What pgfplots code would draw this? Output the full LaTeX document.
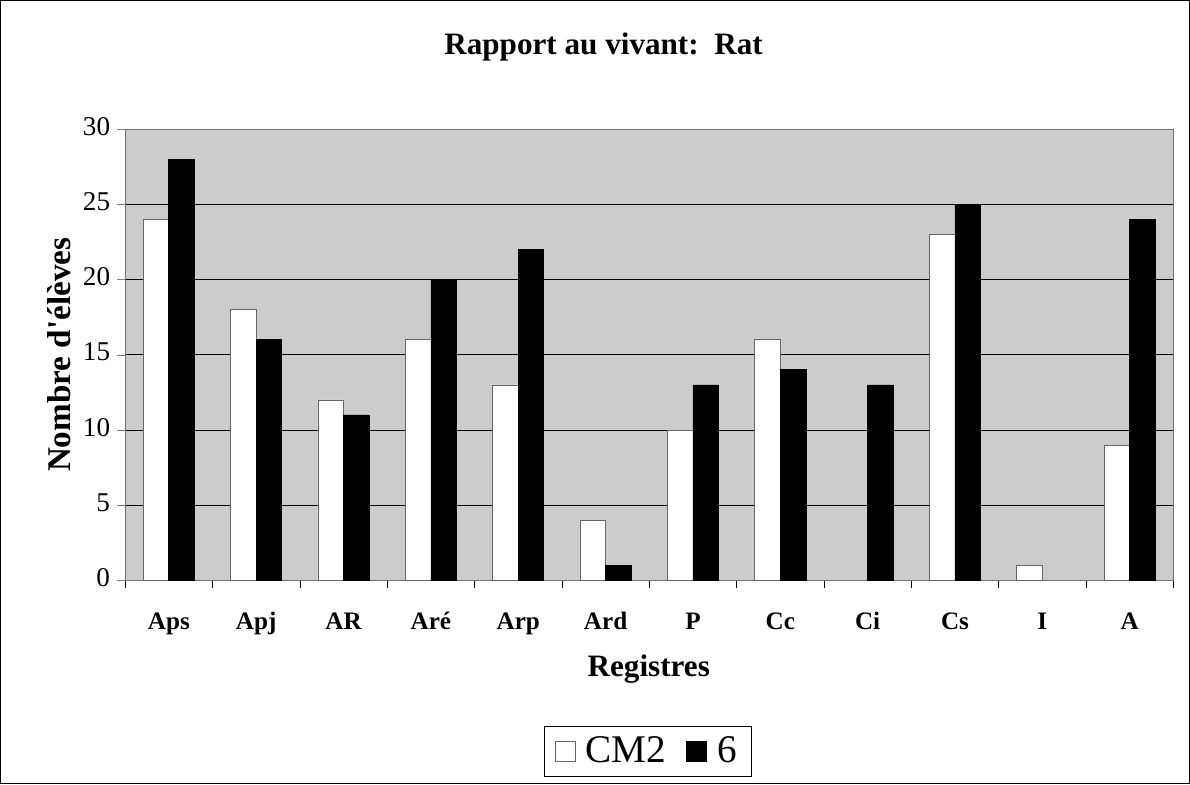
\documentclass[border=0pt]{standalone}
\usepackage{fontspec}
\setmainfont{Liberation Serif}
\usepackage{pgfplots}
\pgfplotsset{compat=1.18}

\pgfplotstableread{
x cm six
0 24 28
1 18 16
2 12 11
3 16 20
4 13 22
5 4 1
6 10 13
7 16 14
8 0 13
9 23 25
10 1 0
11 9 24
}\rat

\begin{document}
\begin{tikzpicture}
\begin{axis}[
  name=ax, at={(0,0)}, anchor=south west,
  scale only axis, width=521.5pt, height=224.5pt,
  ybar=0pt, bar width=12.75pt,
  xmin=-0.5, xmax=11.5, ymin=0, ymax=30,
  xtick={0,...,11},
  xticklabels={Aps,Apj,AR,Aré,Arp,Ard,P,Cc,Ci,Cs,I,A},
  typeset ticklabels with strut,
  x tick label style={font=\fontsize{12.5}{14}\selectfont\bfseries, yshift=-7pt},
  major x tick style={draw=none},
  minor xtick={-0.5,0.5,...,11.5},
  minor x tick style={black},
  xtick pos=bottom, ytick pos=left,
  ytick={0,5,...,30},
  y tick label style={font=\fontsize{13.5}{15}\selectfont},
  /pgf/number format/assume math mode=true,
  tick align=outside, major tick length=4pt, minor tick length=4pt,
  ymajorgrids, grid style={black, line width=0.5pt},
  axis background/.style={fill=black!20},
  axis line style={black!55},
  unbounded coords=discard,
  y filter/.expression={y==0 ? nan : y},
  xlabel={Registres},
  xlabel style={font=\fontsize{15.5}{18}\selectfont\bfseries, at={(axis description cs:0.4995,-0.196)}, anchor=center},
  ylabel={Nombre d\textquotesingle élèves},
  ylabel style={font=\fontsize{16.5}{18}\selectfont\bfseries, at={(axis description cs:-0.063,0.5)}, anchor=center, rotate=0},
  legend columns=2,
  legend style={at={(axis description cs:0.4986,-0.379)}, anchor=center, draw=black, font=\fontsize{19.5}{22}\selectfont, inner xsep=5pt, inner ysep=3pt,
    /tikz/every odd column/.append style={column sep=3pt},
    /tikz/every even column/.append style={column sep=8pt}},
  legend image code/.code={\draw[#1] (0pt,-5pt) rectangle (10pt,5pt);},
]
\addplot[fill=white, draw=black!60, line width=0.4pt] table[x=x, y=cm] {\rat};
\addplot[fill=black, draw=black, line width=0.4pt] table[x=x, y=six] {\rat};
\legend{CM2, 6}
\end{axis}
\node[font=\fontsize{15.5}{18}\selectfont\bfseries, anchor=center] at ([xshift=238pt, yshift=265.5pt]ax.south west) {Rapport au vivant:\ \ Rat};
\draw[black, line width=0.6pt] ([xshift=-62pt, yshift=-101pt]ax.south west) rectangle ++(591.5pt,389.5pt);
\end{tikzpicture}
\end{document}
